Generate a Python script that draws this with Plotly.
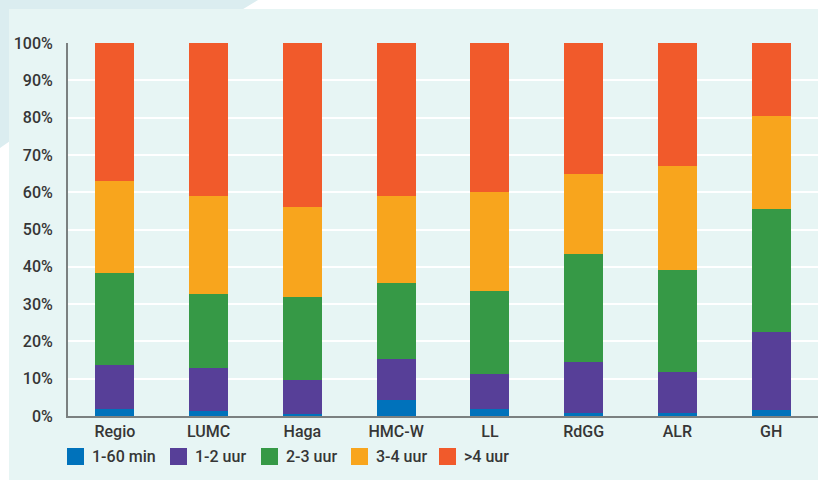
import plotly.graph_objects as go

# ---- data ----
categories = ["Regio", "LUMC", "Haga", "HMC-W", "LL", "RdGG", "ALR", "GH"]
series_names = ["1-60 min", "1-2 uur", "2-3 uur", "3-4 uur", ">4 uur"]
v_1_60_min = [1.8, 1.3, 0.5, 4.3, 1.8, 0.7, 0.7, 1.5]
v_1_2_uur = [11.8, 11.6, 9.1, 10.9, 9.4, 13.7, 11.0, 21.0]
v_2_3_uur = [24.7, 19.8, 22.3, 20.4, 22.3, 29.0, 27.4, 33.0]
v_3_4_uur = [24.7, 26.3, 24.2, 23.4, 26.5, 21.5, 27.9, 24.9]
v_gt_4_uur = [37.0, 41.0, 43.9, 41.0, 40.0, 35.1, 33.0, 19.6]
series_values = [v_1_60_min, v_1_2_uur, v_2_3_uur, v_3_4_uur, v_gt_4_uur]
y_ticks = list(range(0, 101, 10))
y_tick_labels = [f"{t}%" for t in y_ticks]

# ---- style ----
colors = ["#0072bb", "#573f98", "#369946", "#f8a51d", "#f15a2b"]
W, H = 818, 480
L, R, T, B = 68, 0, 43, 64
PW, PH = W - L - R, H - T - B
FONT = "Roboto, 'Open Sans', sans-serif"
TXT = "#363636"
FS = 16


def px(x):
    return (x - L) / PW


def py(y):
    return (H - B - y) / PH


fig = go.Figure()
for name, vals, col in zip(series_names, series_values, colors):
    fig.add_trace(go.Bar(x=categories, y=vals, name=name, marker_color=col,
                         marker_line_width=0, showlegend=False))

shapes = []
# decorative background shape (top-left)
deco_pts = [(0, 0), (258, 0), (225, 20), (20, 134), (0, 148)]
path = "M " + " L ".join(f"{px(a)},{py(b)}" for a, b in deco_pts) + " Z"
shapes.append(dict(type="path", xref="paper", yref="paper", path=path,
                   fillcolor="#dbedf0", line_width=0, layer="below"))
# panel
shapes.append(dict(type="rect", xref="paper", yref="paper",
                   x0=px(9), x1=px(W + 5), y0=py(9), y1=py(H + 5),
                   fillcolor="#e7f5f4", line_width=0, layer="below"))

annotations = []
legend_x = [67, 170, 261, 351, 439]
for name, col, lx in zip(series_names, colors, legend_x):
    shapes.append(dict(type="rect", xref="paper", yref="paper",
                       x0=px(lx), x1=px(lx + 17), y0=py(465), y1=py(448),
                       fillcolor=col, line_width=0))
    annotations.append(dict(xref="paper", yref="paper", x=px(lx + 23), y=py(456.5),
                            text=name, showarrow=False, xanchor="left", yanchor="middle",
                            font=dict(family=FONT, size=FS, color=TXT, weight=500)))

fig.update_layout(
    width=W, height=H,
    margin=dict(l=L, r=R, t=T, b=B),
    barmode="stack", bargap=0.584,
    paper_bgcolor="white", plot_bgcolor="rgba(0,0,0,0)",
    shapes=shapes, annotations=annotations,
    font=dict(family=FONT, size=FS, color=TXT, weight=500),
    showlegend=False,
)
fig.update_xaxes(showline=True, linecolor="#7b8080", linewidth=2, showgrid=False,
                 ticks="", ticklabelstandoff=0,
                 tickfont=dict(family=FONT, size=FS, color=TXT, weight=500))
fig.update_yaxes(range=[0, 100], tickvals=y_ticks, ticktext=y_tick_labels,
                 showline=True, linecolor="#7b8080", linewidth=2,
                 showgrid=True, gridcolor="white", gridwidth=1.5, zeroline=False,
                 ticks="", ticklabelstandoff=10,
                 tickfont=dict(family=FONT, size=FS, color=TXT, weight=500))

fig.write_html("out.html")
